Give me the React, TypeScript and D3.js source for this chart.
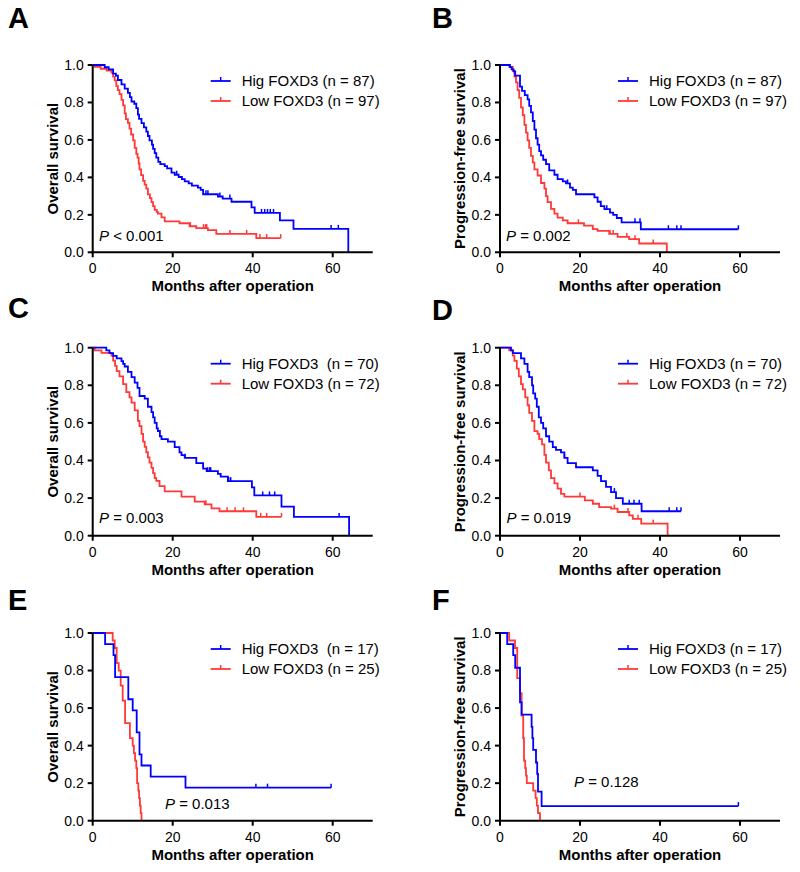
import React from 'react';
import * as d3 from 'd3';

type Step = [number, number];

const X_TICKS = [0, 20, 40, 60];
const Y_TICKS = [0, 0.2, 0.4, 0.6, 0.8, 1.0];
const X_MAX = 70;

// Panel A – overall survival, cohort 1
const A_HIGH: Step[] = [[0,1],[3.0,0.988],[4.0,0.977],[5.1,0.954],[5.8,0.943],[6.3,0.92],[7.2,0.897],[8.0,0.874],[8.8,0.851],[9.3,0.828],[9.7,0.805],[10.4,0.793],[10.9,0.77],[11.3,0.735],[11.6,0.712],[12.2,0.69],[12.8,0.667],[13.4,0.644],[13.8,0.621],[14.2,0.598],[14.8,0.575],[15.1,0.552],[15.5,0.529],[15.9,0.506],[16.4,0.483],[16.9,0.471],[18.0,0.46],[18.6,0.448],[19.7,0.425],[20.5,0.414],[21.5,0.402],[22.3,0.391],[23.0,0.379],[24.0,0.368],[24.8,0.356],[26.3,0.345],[27.0,0.333],[27.6,0.31],[31.3,0.298],[32.5,0.287],[34.7,0.27],[39.7,0.24],[40.5,0.21],[46.8,0.17],[50.2,0.125],[63.9,0]];
const A_HIGH_CENSOR = [21.0, 28.3, 28.8, 31.8, 34.3, 42.2, 43.0, 43.7, 44.4, 45.2, 59.6, 61.4];
const A_LOW: Step[] = [[0,1],[0.5,0.99],[2.0,0.98],[3.5,0.97],[4.7,0.959],[5.1,0.938],[5.5,0.918],[5.9,0.887],[6.3,0.866],[6.7,0.845],[7.2,0.814],[7.6,0.784],[8.0,0.742],[8.3,0.711],[8.8,0.691],[9.2,0.66],[9.6,0.629],[10.1,0.598],[10.5,0.557],[10.9,0.526],[11.2,0.505],[11.5,0.474],[11.7,0.443],[12.1,0.412],[12.6,0.381],[13.0,0.361],[13.4,0.34],[13.8,0.309],[14.3,0.289],[14.7,0.268],[15.1,0.247],[15.5,0.227],[16.0,0.216],[16.3,0.206],[17.2,0.186],[18.0,0.165],[21.7,0.155],[24.2,0.139],[25.9,0.129],[28.8,0.118],[30.9,0.098],[40.9,0.076],[47,0.076]];
const A_LOW_CENSOR = [24.4, 27.7, 28.2, 28.5, 34.3, 38.5, 41.8, 43.5, 47];

// Panel B – progression-free survival, cohort 1
const B_HIGH: Step[] = [[0,1],[2.5,0.989],[2.9,0.977],[3.4,0.966],[3.8,0.943],[5.0,0.885],[5.5,0.862],[6.2,0.839],[6.9,0.816],[7.3,0.782],[7.75,0.747],[8.2,0.701],[8.6,0.655],[9.0,0.609],[9.4,0.575],[9.8,0.54],[10.25,0.517],[10.8,0.494],[11.5,0.471],[12.3,0.437],[13.6,0.414],[14.4,0.391],[15.7,0.379],[16.5,0.368],[17.5,0.345],[18.2,0.333],[19.0,0.31],[23.6,0.293],[24.4,0.27],[25.2,0.247],[26.1,0.23],[27.5,0.212],[28.3,0.2],[29.2,0.183],[30.4,0.16],[35.2,0.123],[59.6,0.123]];
const B_HIGH_CENSOR = [16.9, 26.7, 33.75, 35.0, 42.1, 44.2, 45.25, 59.6];
const B_LOW: Step[] = [[0,1],[2.3,0.99],[3.2,0.969],[3.6,0.938],[4.0,0.907],[4.4,0.866],[4.8,0.825],[5.25,0.773],[5.7,0.732],[6.1,0.68],[6.5,0.639],[6.9,0.598],[7.3,0.557],[7.75,0.515],[8.2,0.48],[8.6,0.443],[9.4,0.41],[10.25,0.37],[11.1,0.34],[11.5,0.3],[11.9,0.268],[12.75,0.232],[13.6,0.206],[14.4,0.185],[15.7,0.17],[16.9,0.155],[21.0,0.142],[23.2,0.124],[24.4,0.114],[27.3,0.098],[29.4,0.082],[32.3,0.07],[34.8,0.047],[41.7,0]];
const B_LOW_CENSOR = [19.6, 27.5, 28.3, 31.7, 33.75, 38.3];

// Panel C – overall survival, cohort 2
const C_HIGH: Step[] = [[0,1],[3.4,0.986],[4.2,0.971],[5.1,0.957],[6.0,0.943],[7.2,0.929],[7.6,0.914],[8.0,0.9],[8.8,0.871],[9.7,0.843],[10.5,0.814],[11.2,0.786],[11.7,0.743],[13.0,0.729],[13.8,0.686],[14.7,0.657],[15.1,0.629],[15.5,0.6],[16.0,0.571],[16.3,0.557],[16.8,0.529],[17.2,0.514],[18.8,0.5],[20.5,0.471],[21.7,0.443],[22.2,0.429],[23.0,0.414],[25.9,0.386],[27.6,0.357],[28.5,0.343],[31.3,0.329],[32.0,0.314],[33.8,0.29],[39.8,0.257],[40.4,0.214],[47.2,0.155],[50.3,0.1],[64.1,0]];
const C_HIGH_CENSOR = [23.1, 28.7, 29.2, 29.5, 34.0, 34.5, 42.5, 44.2, 45.5, 61.6];
const C_LOW: Step[] = [[0,1],[0.5,0.986],[2.2,0.972],[4.7,0.958],[5.1,0.931],[5.6,0.903],[6.0,0.875],[6.7,0.847],[7.6,0.806],[8.4,0.764],[9.2,0.736],[9.7,0.708],[10.5,0.667],[11.3,0.611],[11.7,0.583],[12.2,0.542],[12.6,0.5],[13.0,0.472],[13.4,0.444],[13.8,0.417],[14.2,0.389],[14.7,0.361],[15.1,0.333],[15.5,0.306],[15.9,0.292],[16.7,0.264],[18.0,0.236],[22.2,0.208],[25.5,0.181],[28.0,0.167],[29.7,0.145],[31.7,0.13],[40.9,0.1],[47.2,0.1]];
const C_LOW_CENSOR = [28.3, 33.6, 35.6, 37.7, 42.0, 43.5, 47.2];

// Panel D – progression-free survival, cohort 2
const D_HIGH: Step[] = [[0,1],[2.75,0.986],[3.2,0.971],[5.25,0.943],[6.1,0.914],[6.9,0.871],[7.3,0.843],[8.0,0.8],[8.3,0.757],[8.8,0.729],[9.2,0.686],[9.7,0.629],[10.25,0.6],[10.8,0.571],[11.5,0.529],[12.3,0.5],[13.2,0.471],[14.0,0.457],[15.25,0.443],[16.1,0.414],[16.9,0.386],[19.0,0.364],[23.2,0.347],[24.4,0.318],[25.25,0.29],[26.5,0.26],[27.75,0.232],[29.0,0.2],[30.7,0.17],[35.4,0.13],[45.25,0.13]];
const D_HIGH_CENSOR = [16.1, 28.6, 32.3, 33.5, 34.8, 42.3, 44.2, 45.25];
const D_LOW: Step[] = [[0,1],[2.3,0.986],[3.2,0.958],[3.6,0.93],[4.2,0.889],[4.7,0.847],[5.25,0.806],[5.7,0.778],[6.3,0.736],[6.9,0.694],[7.3,0.653],[8.0,0.611],[8.6,0.556],[9.4,0.542],[9.8,0.514],[10.5,0.486],[11.1,0.43],[11.5,0.389],[12.2,0.347],[12.75,0.306],[13.6,0.278],[14.4,0.25],[15.25,0.222],[16.1,0.208],[21.2,0.188],[23.2,0.17],[24.8,0.152],[27.75,0.144],[29.4,0.126],[32.3,0.108],[33.2,0.09],[35.3,0.064],[41.9,0]];
const D_LOW_CENSOR = [20.0, 28.6, 32.0, 34.5, 38.3];

// Panel E – overall survival, cohort 3
const E_HIGH: Step[] = [[0,1],[3.1,0.941],[5.2,0.882],[5.6,0.765],[8.9,0.647],[10.0,0.588],[11.0,0.471],[11.7,0.353],[12.2,0.294],[14.5,0.235],[23.2,0.176],[59.6,0.176]];
const E_HIGH_CENSOR = [40.8, 43.7, 59.6];
const E_LOW: Step[] = [[0,1],[5.0,0.96],[5.5,0.92],[6.0,0.84],[6.5,0.8],[7.0,0.72],[7.5,0.64],[8.1,0.52],[9.3,0.44],[10.0,0.4],[10.3,0.36],[10.6,0.32],[10.9,0.28],[11.1,0.2],[11.4,0.16],[11.6,0.12],[11.8,0.08],[12.0,0.04],[12.2,0]];
const E_LOW_CENSOR: number[] = [];

// Panel F – progression-free survival, cohort 3
const F_HIGH: Step[] = [[0,1],[1.8,0.941],[3.3,0.882],[3.8,0.815],[5.0,0.63],[5.4,0.565],[7.9,0.5],[8.1,0.44],[8.3,0.377],[9.0,0.31],[9.3,0.25],[9.5,0.155],[10.4,0.078],[59.6,0.078]];
const F_HIGH_CENSOR = [59.6];
const F_LOW: Step[] = [[0,1],[2.3,0.96],[3.75,0.92],[4.3,0.76],[5.0,0.68],[5.4,0.56],[5.8,0.44],[6.0,0.32],[6.3,0.28],[6.5,0.24],[6.7,0.2],[8.3,0.16],[8.9,0.12],[9.2,0.08],[9.5,0.04],[10.0,0]];
const F_LOW_CENSOR: number[] = [];

const LETTERS = ['A', 'B', 'C', 'D', 'E', 'F'];
const Y_TITLES = ['Overall survival', 'Progression-free survival', 'Overall survival', 'Progression-free survival', 'Overall survival', 'Progression-free survival'];
const HIGH_LABELS = ['Hig FOXD3 (n = 87)', 'Hig FOXD3 (n = 87)', 'Hig FOXD3  (n = 70)', 'Hig FOXD3 (n = 70)', 'Hig FOXD3  (n = 17)', 'Hig FOXD3 (n = 17)'];
const LOW_LABELS = ['Low FOXD3 (n = 97)', 'Low FOXD3 (n = 97)', 'Low FOXD3 (n = 72)', 'Low FOXD3 (n = 72)', 'Low FOXD3 (n = 25)', 'Low FOXD3 (n = 25)'];
const P_LABELS = [' < 0.001', ' = 0.002', ' = 0.003', ' = 0.019', ' = 0.013', ' = 0.128'];
const HIGH_DATA = [A_HIGH, B_HIGH, C_HIGH, D_HIGH, E_HIGH, F_HIGH];
const HIGH_CENSORS = [A_HIGH_CENSOR, B_HIGH_CENSOR, C_HIGH_CENSOR, D_HIGH_CENSOR, E_HIGH_CENSOR, F_HIGH_CENSOR];
const LOW_DATA = [A_LOW, B_LOW, C_LOW, D_LOW, E_LOW, F_LOW];
const LOW_CENSORS = [A_LOW_CENSOR, B_LOW_CENSOR, C_LOW_CENSOR, D_LOW_CENSOR, E_LOW_CENSOR, F_LOW_CENSOR];

// layout (pixels)
const COL_X = [92.7, 500];
const ROW_Y = [[65, 252.3], [347.7, 535.7], [633, 820.7]];
const PLOT_W = 280;
const P_POS: [number, number][] = [[6.3, -11.5], [6, -11.5], [6.3, -12.4], [6.5, -12.4], [72.3, -11.4], [74, -34]];
const LETTER_BASE = [28, 28, 318, 320, 610, 610];

const BLUE = '#0000ff';
const RED = '#ff3838';
const FONT = 'Arial, "Liberation Sans", Helvetica, sans-serif';

function survAt(steps: Step[], t: number): number {
  let s = 1;
  for (const [tt, v] of steps) if (tt <= t) s = v;
  return s;
}

function Panel({ i }: { i: number }) {
  const ax = COL_X[i % 2];
  const [yTop, yBot] = ROW_Y[Math.floor(i / 2)];
  const x = d3.scaleLinear().domain([0, X_MAX]).range([ax, ax + PLOT_W]);
  const y = d3.scaleLinear().domain([0, 1]).range([yBot, yTop]);
  const line = d3.line<Step>().x(d => x(d[0])).y(d => y(d[1])).curve(d3.curveStepAfter);
  const series = [
    { data: HIGH_DATA[i], cens: HIGH_CENSORS[i], color: BLUE, label: HIGH_LABELS[i] },
    { data: LOW_DATA[i], cens: LOW_CENSORS[i], color: RED, label: LOW_LABELS[i] },
  ];
  const letterX = i % 2 === 0 ? 8 : 432;
  return (
    <g fontFamily={FONT}>
      <text x={letterX} y={LETTER_BASE[i]} fontSize={29} fontWeight="bold">{LETTERS[i]}</text>
      {series.slice().reverse().map((s, k) => (
        <g key={k}>
          <path d={line(s.data) || ''} fill="none" stroke={s.color} strokeWidth={1.8} />
          {s.cens.map((t, j) => (
            <line key={j} x1={x(t)} x2={x(t)} y1={y(survAt(s.data, t))} y2={y(survAt(s.data, t)) - 4} stroke={s.color} strokeWidth={1.5} />
          ))}
        </g>
      ))}
      <line x1={ax} x2={ax} y1={y(0) + 1} y2={y(1)} stroke="#000" strokeWidth={2} />
      <line x1={ax - 1} x2={x(X_MAX)} y1={y(0)} y2={y(0)} stroke="#000" strokeWidth={2} />
      {Y_TICKS.map(v => (
        <g key={v}>
          <line x1={ax - 5} x2={ax} y1={y(v)} y2={y(v)} stroke="#000" strokeWidth={2} />
          <text x={ax - 9} y={y(v)} dy="0.35em" fontSize={14} textAnchor="end">{v.toFixed(1)}</text>
        </g>
      ))}
      {X_TICKS.map(v => (
        <g key={v}>
          <line x1={x(v)} x2={x(v)} y1={y(0)} y2={y(0) + 5} stroke="#000" strokeWidth={2} />
          <text x={x(v)} y={y(0) + 21} fontSize={14} textAnchor="middle">{v}</text>
        </g>
      ))}
      <text x={x(X_MAX / 2)} y={y(0) + 39} fontSize={15} fontWeight="bold" textAnchor="middle">Months after operation</text>
      <text transform={`translate(${ax - 35},${y(0.5)}) rotate(-90)`} fontSize={15} fontWeight="bold" textAnchor="middle">{Y_TITLES[i]}</text>
      {series.map((s, k) => {
        const ly = yTop + (k === 0 ? 16 : 36);
        return (
          <g key={k}>
            <line x1={ax + 118} x2={ax + 138} y1={ly} y2={ly} stroke={s.color} strokeWidth={1.8} />
            <line x1={ax + 128} x2={ax + 128} y1={ly} y2={ly - 4} stroke={s.color} strokeWidth={1.5} />
            <text x={ax + 149} y={ly} dy="0.35em" fontSize={15} xmlSpace="preserve" style={{ whiteSpace: 'pre' }}>{s.label}</text>
          </g>
        );
      })}
      <text x={ax + P_POS[i][0]} y={yBot + P_POS[i][1]} fontSize={15} xmlSpace="preserve" style={{ whiteSpace: 'pre' }}>
        <tspan fontStyle="italic">P</tspan>{P_LABELS[i]}
      </text>
    </g>
  );
}

export default function App() {
  return (
    <svg width={800} height={872} style={{ position: 'absolute', left: 0, top: 0, background: '#fff' }}>
      <rect width={800} height={872} fill="#fff" />
      {LETTERS.map((_, i) => <Panel key={i} i={i} />)}
    </svg>
  );
}
